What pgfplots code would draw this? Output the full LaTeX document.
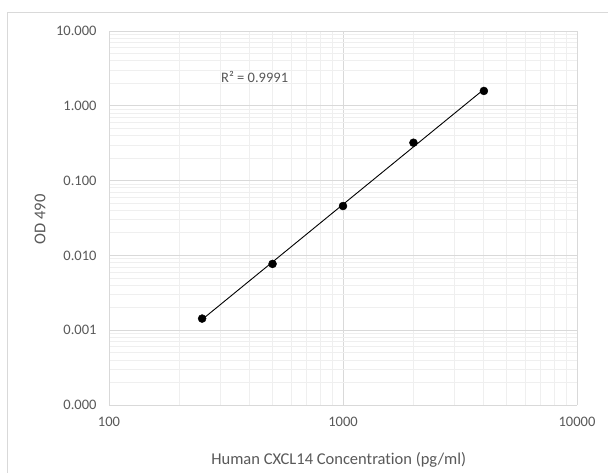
\documentclass[border=0pt]{standalone}
\usepackage{pgfplots}
\pgfplotsset{compat=1.18}
\usepackage{fontspec}
\setmainfont{Carlito}[Ligatures=NoCommon]
\definecolor{txt}{HTML}{595959}
\definecolor{majg}{HTML}{D9D9D9}
\definecolor{ming}{HTML}{EFEFEF}
\begin{document}
\begin{tikzpicture}
\path[use as bounding box] (0,0) rectangle (608bp,473bp);
\fill[white] (0,0) rectangle (608bp,473bp);
\draw[majg, line width=0.8bp] (7bp,461bp) rectangle (630bp,-20bp);
\begin{axis}[
  at={(109bp,68bp)}, anchor=south west,
  scale only axis, width=468bp, height=374bp,
  xmode=log, ymode=log,
  xmin=100, xmax=10000, ymin=0.0001, ymax=10,
  xtick={100,1000,10000}, xticklabels={100,1000,10000},
  ytick={0.0001,0.001,0.01,0.1,1,10},
  yticklabels={0.000,0.001,0.010,0.100,1.000,10.000},
  minor xtick={200,300,400,500,600,700,800,900,2000,3000,4000,5000,6000,7000,8000,9000},
  minor ytick={0.0002,0.0003,0.0004,0.0005,0.0006,0.0007,0.0008,0.0009,
               0.002,0.003,0.004,0.005,0.006,0.007,0.008,0.009,
               0.02,0.03,0.04,0.05,0.06,0.07,0.08,0.09,
               0.2,0.3,0.4,0.5,0.6,0.7,0.8,0.9,
               2,3,4,5,6,7,8,9},
  grid=both,
  major grid style={majg, line width=0.8bp},
  minor grid style={ming, line width=0.8bp},
  tick style={draw=none},
  axis line style={majg, line width=0.8bp},
  axis x line*=bottom, axis y line*=left,
  /pgf/number format/assume math mode=true,
  ticklabel style={font=\fontsize{14.5bp}{16bp}\selectfont, text=txt},
  yticklabel style={xshift=-9bp},
  xticklabel style={yshift=-9bp},
  xlabel={Human CXCL14 Concentration (pg/ml)},
  ylabel={OD 490},
  label style={font=\fontsize{16.5bp}{18bp}\selectfont, text=txt},
  xlabel style={at={(axis description cs:0.491,-0.147)}, anchor=center},
  ylabel style={at={(axis description cs:-0.1474,0.496)}, anchor=center, rotate=0},
  clip=false,
]
% trendline (power fit)
\addplot[black, line width=0.9bp] coordinates {(250,0.00139) (4000,1.66)};
% data
\addplot[only marks, mark=*, mark size=4bp, black] coordinates {
  (250,0.00143) (500,0.0077) (1000,0.0457) (2000,0.321) (4000,1.58)};
\node[anchor=west, text=txt, font=\fontsize{14.5bp}{16bp}\selectfont, inner sep=0pt] at (axis cs:301,2.43) {R² = 0.9991};
\end{axis}
\end{tikzpicture}
\end{document}
